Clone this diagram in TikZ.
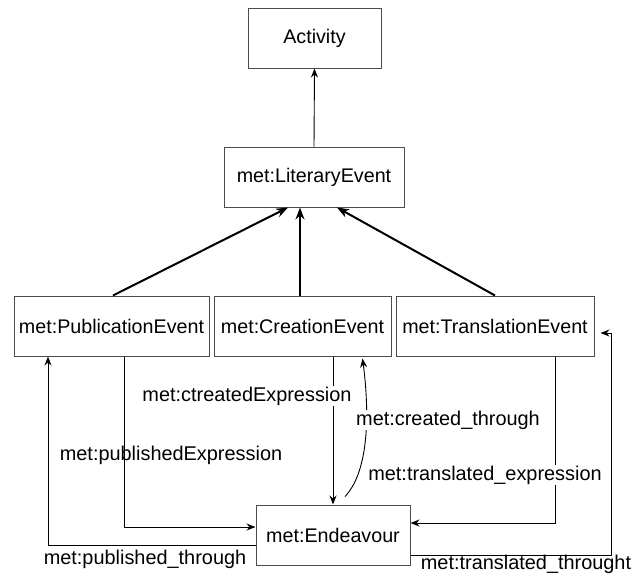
\documentclass[tikz,border=0pt]{standalone}
\usepackage{fontspec}
\setmainfont{Liberation Sans}
\usetikzlibrary{arrows.meta}
\begin{document}
\begin{tikzpicture}[x=1pt,y=-1pt,
    cls/.style={draw=black!70, line width=1pt, minimum height=60pt, inner sep=0pt,
                font=\fontsize{19.7}{23}\selectfont},
    rel/.style={-{Stealth[length=9pt,width=7pt]}, line width=0.9pt},
    isa/.style={-{Stealth[length=12pt,width=9pt]}, line width=2pt},
    lbl/.style={font=\fontsize{19.9}{23}\selectfont, inner sep=1pt}]

    \useasboundingbox (0,0) rectangle (642,574);

    % --- Classes ---
    \node[cls, minimum width=133pt] (act)   at (314.5,38)  {Activity};
    \node[cls, minimum width=180pt] (lit)   at (314,177)   {met:LiteraryEvent};
    \node[cls, minimum width=195pt] (pub)   at (111.5,326) {met:PublicationEvent};
    \node[cls, minimum width=177pt] (crea)  at (302.5,326) {met:CreationEvent};
    \node[cls, minimum width=198pt] (trans) at (495,326)   {met:TranslationEvent};
    \node[cls, minimum width=154pt] (endv)  at (333,535)   {met:Endeavour};

    % --- Subclass arrows ---
    \draw[rel] (lit.north) -- (act.south);
    \draw[isa] ([xshift=1.5pt]pub.north) -- ([xshift=-26pt]lit.south);
    \draw[isa] ([xshift=-2.5pt]crea.north) -- ([xshift=-14pt]lit.south);
    \draw[isa] (trans.north) -- ([xshift=23pt]lit.south);

    % --- Publication ---
    \draw[rel] ([xshift=12.5pt]pub.south) |- ([yshift=8pt]endv.west);
    \draw[rel] ([yshift=-10pt]endv.west) -| ([xshift=-63.5pt]pub.south);
    \node[lbl] (pubexp) at (171,455) {met:publishedExpression};
    \node[lbl] (pubthr) at (145,559) {met:published\_through};

    % --- Creation ---
    \draw[rel] ([xshift=30.5pt]crea.south) -- (endv.north);
    \coordinate (ctstart) at ([xshift=12pt,yshift=8pt]endv.north);
    \draw[rel] (ctstart) .. controls (372,468) and (368,400) .. ([xshift=60pt,yshift=-2pt]crea.south);
    \node[lbl, fill=white] (creexp) at (247,396) {met:ctreatedExpression};
    \node[lbl, fill=white] (crethr) at (448,420) {met:created\_through};

    % --- Translation ---
    \draw[rel] ([xshift=60pt]trans.south) |- ([yshift=12pt]endv.east);
    \draw[rel, shorten >=6pt] ([yshift=-20pt]endv.east) -| (611,333) -- ([yshift=-7pt]trans.east);
    \node[lbl, fill=white] (traexp) at (485,475) {met:translated\_expression};
    \node[lbl] (trathr) at (526,564) {met:translated\_throught};

\end{tikzpicture}
\end{document}
